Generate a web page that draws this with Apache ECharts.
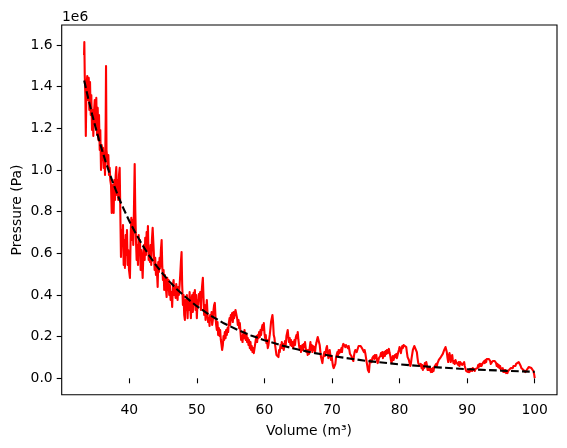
<!DOCTYPE html>
<html>
<head>
<meta charset="utf-8">
<script src="https://cdn.jsdelivr.net/npm/echarts@6.0.0/dist/echarts.min.js"></script>
<style>
html,body{margin:0;padding:0;background:#fff;}
#chart{width:567px;height:448px;}
</style>
</head>
<body>
<div id="chart"></div>
<script>
// Measured volume (m³) and pressure (×1e6 Pa)
const volume = [
33.31,33.35,33.41,33.50,33.57,33.67,33.78,33.90,34.00,34.09,
34.19,34.30,34.38,34.49,34.59,34.68,34.78,34.89,35.01,35.12,
35.23,35.33,35.42,35.52,35.63,35.71,35.82,35.92,36.01,36.11,
36.22,36.31,36.41,36.51,36.56,36.63,36.70,36.81,36.90,37.00,
37.10,37.19,37.30,37.40,37.49,37.59,37.69,37.78,37.89,37.99,
38.08,38.18,38.29,38.37,38.48,38.58,38.67,38.77,38.88,38.97,
39.07,39.17,39.26,39.36,39.47,39.56,39.66,39.76,39.85,39.96,
40.10,40.21,40.30,40.40,40.50,40.59,40.69,40.80,40.89,40.99,
41.09,41.18,41.29,
41.39,41.48,41.58,41.68,41.77,41.88,41.98,42.07,42.17,42.28,
42.36,42.47,42.57,42.66,42.76,42.87,42.96,43.06,43.16,43.25,
43.35,43.46,43.55,43.65,43.75,43.84,43.95,44.05,44.20,44.29,
44.39,44.49,44.58,44.68,44.79,44.88,44.98,45.08,45.17,45.28,
45.38,45.53,45.62,45.72,45.82,45.91,46.01,46.12,46.24,46.35,
46.46,46.56,46.65,46.75,46.86,46.95,47.05,47.15,47.24,47.34,
47.45,47.54,47.64,47.74,47.83,47.94,48.04,48.13,48.23,48.33,
48.42,48.53,48.63,48.72,48.82,48.93,49.01,
49.12,49.22,49.31,49.41,49.52,49.61,49.71,49.81,49.90,50.00,
50.11,50.20,50.30,50.40,50.49,50.60,50.70,50.79,50.89,51.00,
51.08,51.19,51.29,51.38,51.48,51.59,51.67,51.78,51.88,51.97,
52.07,52.18,52.27,52.37,52.47,52.56,52.66,52.77,52.86,52.96,
53.06,53.15,53.26,53.36,53.45,53.55,53.65,53.74,53.85,53.95,
54.04,54.14,54.25,54.33,54.44,54.54,54.63,54.73,54.84,54.93,
55.03,55.13,55.22,55.32,55.43,55.52,55.62,55.72,55.87,55.96,
56.06,56.17,56.26,56.36,56.46,56.55,56.65,56.76,56.85,56.95,
57.05,57.14,57.25,57.35,57.44,57.54,57.64,57.73,57.84,57.94,
58.03,58.13,58.24,58.32,58.43,58.58,58.72,58.83,58.92,59.02,
59.12,59.21,59.31,59.42,59.51,59.61,59.71,59.80,59.91,60.01,
60.10,60.20,60.30,60.39,60.50,60.60,60.69,60.79,60.90,60.98,
61.09,61.19,61.28,61.38,61.49,61.58,61.68,61.78,61.87,61.98,
62.08,62.17,62.27,62.38,62.46,62.57,62.67,62.76,62.86,62.97,
63.05,63.16,63.26,63.35,63.45,63.56,63.64,63.75,63.85,63.94,
64.04,64.15,64.24,64.34,64.44,64.53,64.63,64.74,64.83,64.93,
65.03,65.12,65.23,65.33,65.42,65.52,65.62,65.71,65.82,65.92,
66.01,66.11,66.22,66.30,66.41,66.51,66.60,66.70,
66.81,66.90,67.00,67.10,67.19,67.30,67.40,67.49,67.59,67.69,
67.78,67.89,68.08,68.18,68.29,68.37,68.48,68.58,68.67,68.77,
68.88,68.96,69.07,69.17,69.26,69.36,69.47,69.56,69.66,69.76,
69.85,69.96,70.06,70.15,70.25,70.40,70.50,70.59,70.69,70.80,
70.89,70.99,71.09,71.18,71.28,71.39,71.48,71.58,71.68,71.77,
71.88,71.98,72.07,72.17,72.27,72.36,72.47,72.57,72.66,72.76,
72.87,72.95,73.06,73.16,73.25,73.35,73.46,73.55,73.65,73.75,
73.84,73.94,74.05,74.14,74.24,74.34,74.43,74.53,74.64,74.73,
74.83,74.93,75.02,75.13,75.23,75.32,75.47,75.57,75.67,75.76,
75.87,75.97,76.06,76.16,76.27,76.35,76.46,76.56,76.65,76.75,
76.86,76.94,77.05,77.15,77.24,77.34,77.45,77.54,77.64,77.74,
77.83,77.94,78.04,78.13,78.23,78.33,78.42,78.53,78.63,78.72,
78.82,78.92,79.01,79.12,79.22,79.31,79.41,79.52,79.61,79.71,
79.81,79.90,80.00,80.11,80.20,80.30,80.40,80.49,80.60,80.70,
80.79,80.89,80.99,81.08,81.19,81.29,81.38,81.48,81.59,81.67,
81.78,81.88,81.97,82.07,82.18,82.27,82.47,82.56,82.66,82.77,
82.86,82.96,83.06,83.15,83.26,83.36,83.45,83.55,83.65,83.74,
83.85,83.95,84.04,84.14,84.25,84.33,84.44,
84.54,84.63,84.73,84.84,84.93,85.03,85.13,85.22,85.32,85.43,
85.52,85.62,85.72,85.81,85.92,86.02,86.11,86.21,86.31,86.40,
86.51,86.61,86.70,86.80,86.90,86.99,87.10,87.20,87.29,87.39,
87.50,87.58,87.69,87.79,87.88,87.98,88.09,88.18,88.28,88.38,
88.47,88.57,88.68,88.77,88.87,88.97,89.06,89.17,89.27,89.36,
89.46,89.56,89.65,89.76,89.86,89.95,90.05,90.16,90.24,90.35,
90.45,90.54,90.64,90.75,90.84,90.94,91.04,91.13,91.23,91.34,
91.43,91.53,91.63,91.72,91.83,91.93,92.02,92.12,92.22,92.31,
92.42,92.52,92.61,92.71,92.82,92.90,93.01,93.11,93.20,93.30,
93.41,93.50,93.60,93.70,93.79,93.89,94.00,94.09,94.19,94.29,
94.38,94.49,94.59,94.68,94.78,94.88,94.97,95.08,95.18,95.27,
95.37,95.48,95.56,95.67,95.77,95.86,95.96,96.07,96.16,96.26,
96.36,96.45,96.55,96.66,96.75,96.85,96.95,97.04,97.15,97.25,
97.34,97.44,97.54,97.63,97.74,97.84,97.93,98.03,98.14,98.22,
98.33,98.43,98.52,98.62,98.73,98.82,98.92,99.02,99.11,99.21,
99.32,99.40,99.51,99.61,99.70,99.80,99.91,100.00
];
const pressure = [
1.552,1.614,1.456,1.360,1.163,1.408,1.451,1.336,1.442,1.288,
1.422,1.264,1.360,1.192,1.288,1.163,1.278,1.336,1.216,1.346,
1.168,1.298,1.144,1.264,1.096,1.192,1.000,1.120,1.048,1.106,
1.010,1.072,0.976,1.240,1.499,1.096,1.072,1.024,1.072,0.976,
1.010,0.952,0.928,0.794,0.928,0.904,0.794,0.952,0.856,0.976,
1.014,0.880,0.952,0.856,0.976,1.010,0.808,0.582,0.712,0.640,
0.736,0.544,0.664,0.530,0.688,0.592,0.712,0.544,0.616,0.520,
0.482,0.688,0.770,0.664,0.760,0.640,0.808,1.029,0.808,0.664,
0.568,0.640,0.544,
0.688,0.592,0.664,0.520,0.616,0.558,0.482,0.578,0.640,0.568,
0.674,0.592,0.702,0.616,0.731,0.568,0.616,0.558,0.640,0.544,
0.664,0.722,0.731,0.592,0.520,0.578,0.496,0.544,0.438,0.558,
0.510,0.578,0.530,0.616,0.664,0.544,0.472,0.520,0.424,0.496,
0.448,0.390,0.482,0.424,0.472,0.400,0.448,0.376,0.414,0.342,
0.448,0.472,0.400,0.434,0.386,0.453,0.414,0.376,0.438,0.400,
0.448,0.496,0.558,0.606,0.448,0.352,0.400,0.304,0.280,0.376,
0.328,0.400,0.289,0.376,0.328,0.414,0.352,
0.289,0.376,0.400,0.318,0.410,0.376,0.424,0.328,0.400,0.289,
0.376,0.352,0.405,0.376,0.414,0.328,0.410,0.448,0.482,0.376,
0.304,0.352,0.280,0.328,0.376,0.304,0.270,0.289,0.251,0.304,
0.280,0.318,0.256,0.280,0.328,0.352,0.362,0.289,0.256,0.232,
0.270,0.208,0.241,0.203,0.232,0.184,0.160,0.136,0.160,0.203,
0.184,0.222,0.193,0.232,0.208,0.241,0.222,0.265,0.289,0.256,
0.304,0.280,0.313,0.270,0.318,0.289,0.313,0.328,0.328,0.289,
0.256,0.280,0.241,0.265,0.222,0.184,0.203,0.174,0.213,0.193,
0.232,0.203,0.184,0.213,0.174,0.193,0.160,0.184,0.145,0.174,
0.136,0.155,0.126,0.145,0.121,0.126,0.184,0.203,0.174,0.208,
0.193,0.222,0.198,0.232,0.208,0.241,0.256,0.232,0.265,0.217,
0.193,0.208,0.169,0.184,0.145,0.160,0.184,0.208,0.241,0.270,
0.289,0.304,0.270,0.208,0.193,0.160,0.136,0.112,0.107,0.117,
0.102,0.136,0.126,0.160,0.145,0.174,0.145,0.165,0.136,0.160,
0.179,0.160,0.203,0.217,0.232,0.193,0.174,0.193,0.160,0.184,
0.155,0.174,0.145,0.160,0.184,0.160,0.193,0.208,0.193,0.222,
0.184,0.160,0.136,0.155,0.126,0.145,0.160,0.136,0.165,0.150,
0.174,0.145,0.126,0.136,0.112,0.136,0.117,0.145,
0.174,0.136,0.160,0.126,0.155,0.136,0.150,0.126,0.155,0.169,
0.184,0.198,0.203,0.160,0.126,0.102,0.088,0.073,0.097,0.112,
0.126,0.107,0.126,0.145,0.155,0.126,0.097,0.112,0.136,0.112,
0.088,0.107,0.078,0.059,0.049,0.040,0.069,0.097,0.112,0.126,
0.107,0.136,0.121,0.136,0.126,0.145,0.126,0.155,0.165,0.160,
0.169,0.150,0.160,0.165,0.155,0.145,0.155,0.136,0.117,0.112,
0.107,0.097,0.088,0.083,0.107,0.126,0.136,0.145,0.126,0.136,
0.145,0.155,0.150,0.160,0.155,0.160,0.145,0.136,0.141,0.126,
0.136,0.121,0.102,0.078,0.059,0.040,0.030,0.069,0.088,0.097,
0.078,0.097,0.088,0.107,0.093,0.112,0.097,0.112,0.088,0.073,
0.083,0.097,0.088,0.107,0.121,0.107,0.126,0.097,0.112,0.126,
0.107,0.131,0.117,0.136,0.121,0.126,0.141,0.121,0.107,0.088,
0.073,0.097,0.107,0.088,0.102,0.112,0.102,0.117,0.097,0.112,
0.126,0.136,0.150,0.136,0.121,0.141,0.155,0.145,0.160,0.165,
0.169,0.169,0.150,0.126,0.102,0.107,0.088,0.073,0.059,0.069,
0.097,0.117,0.136,0.145,0.155,0.160,0.160,0.126,0.097,0.073,
0.064,0.078,0.059,0.069,0.049,0.064,0.040,0.059,0.049,0.073,
0.059,0.078,0.064,0.040,0.054,0.040,0.054,
0.040,0.030,0.045,0.030,0.049,0.035,0.054,0.045,0.059,0.069,
0.059,0.073,0.078,0.088,0.097,0.088,0.102,0.107,0.097,0.117,
0.126,0.136,0.145,0.150,0.155,0.126,0.097,0.078,0.107,0.121,
0.102,0.078,0.097,0.112,0.088,0.073,0.083,0.069,0.088,0.078,
0.069,0.083,0.064,0.078,0.059,0.078,0.069,0.083,0.064,0.059,
0.073,0.078,0.059,0.045,0.035,0.030,0.040,0.030,0.040,0.030,
0.045,0.035,0.045,0.035,0.049,0.040,0.049,0.035,0.045,0.040,
0.054,0.049,0.064,0.054,0.069,0.059,0.069,0.059,0.064,0.073,
0.069,0.083,0.073,0.088,0.078,0.093,0.088,0.097,0.093,0.097,
0.083,0.069,0.064,0.073,0.083,0.078,0.088,0.083,0.078,0.073,
0.059,0.069,0.054,0.064,0.049,0.059,0.045,0.054,0.040,0.049,
0.030,0.040,0.030,0.040,0.025,0.035,0.025,0.035,0.030,0.040,
0.035,0.049,0.045,0.054,0.049,0.059,0.054,0.064,0.059,0.069,
0.064,0.073,0.069,0.078,0.078,0.069,0.059,0.049,0.054,0.045,
0.040,0.035,0.040,0.030,0.035,0.040,0.049,0.045,0.054,0.049,
0.054,0.045,0.049,0.040,0.045,0.035,0.021,0.001
];
// Fitted curve (×1e6 Pa)
const fitVolume = [33.33,33.7,34,34.5,35,35.5,36,36.5,37,37.5,38,38.5,39,40,41,42,43,44,45,46,47,48,50,52,54,56,58,60,62.5,65,67.5,70,75,80,85,90,95,100];
const fitPressure = [1.430,1.376,1.334,1.267,1.206,1.147,1.092,1.040,0.992,0.947,0.904,0.863,0.825,0.755,0.693,0.637,0.586,0.541,0.500,0.463,0.429,0.399,0.346,0.302,0.264,0.233,0.206,0.183,0.158,0.138,0.121,0.107,0.084,0.067,0.054,0.044,0.037,0.031];
const xTicks = [40,50,60,70,80,90,100];
const yTicks = [0,0.2,0.4,0.6,0.8,1.0,1.2,1.4,1.6];

const FONT = 'DejaVu Sans';
const chart = echarts.init(document.getElementById('chart'), null, {renderer:'canvas'});
const measured = volume.map((v,i)=>[v, pressure[i]]);
const fitted = fitVolume.map((v,i)=>[v, fitPressure[i]]);

chart.setOption({
  animation:false,
  backgroundColor:'#fff',
  grid:{left:61.7,right:10,top:25,bottom:53.3,show:true,borderColor:'#000',borderWidth:1.1,backgroundColor:'transparent',containLabel:false,outerBoundsMode:'none'},
  xAxis:{
    type:'value', min:30.0, max:103.3,
    axisLine:{show:false},
    splitLine:{show:false},
    axisTick:{show:true,inside:false,length:5,lineStyle:{color:'#000',width:1.1},customValues:xTicks},
    axisLabel:{show:true,margin:9,color:'#000',fontFamily:FONT,fontSize:13.9,customValues:xTicks,formatter:v=>String(v)}
  },
  yAxis:{
    type:'value', min:-0.0787, max:1.696,
    axisLine:{show:false},
    splitLine:{show:false},
    axisTick:{show:true,inside:false,length:5,lineStyle:{color:'#000',width:1.1},customValues:yTicks},
    axisLabel:{show:true,margin:9,color:'#000',fontFamily:FONT,fontSize:13.9,customValues:yTicks,formatter:v=>v.toFixed(1)}
  },
  series:[
    {type:'line',data:measured,showSymbol:false,symbol:'none',lineStyle:{color:'#ff0000',width:2.1,join:'round'},z:2},
    {type:'line',data:fitted,showSymbol:false,symbol:'none',lineStyle:{color:'#000',width:2.1,type:[7.7,3.3]},z:3}
  ],
  graphic:[
    {type:'text',x:62,y:17,style:{text:'1e6',fill:'#000',font:'13.9px "DejaVu Sans"',align:'left',verticalAlign:'middle'}},
    {type:'text',x:309,y:431,style:{text:'Volume (m³)',fill:'#000',font:'13.9px "DejaVu Sans"',align:'center',verticalAlign:'middle'}},
    {type:'text',x:17,y:210,rotation:Math.PI/2,style:{text:'Pressure (Pa)',fill:'#000',font:'13.9px "DejaVu Sans"',align:'center',verticalAlign:'middle'}}
  ]
});
</script>
</body>
</html>
